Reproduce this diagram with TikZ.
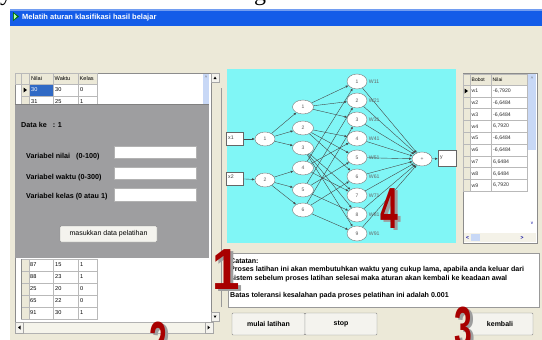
\documentclass[tikz,border=0pt]{standalone}
\usepackage{graphicx}
\usepackage{fontspec}
\setmainfont{Liberation Sans}
\newfontfamily\serifa{Liberation Serif}
\usetikzlibrary{arrows.meta,shapes.geometric}
\definecolor{beige}{RGB}{236,233,216}
\definecolor{btnface}{RGB}{244,243,238}
\definecolor{xpblue}{RGB}{20,92,232}
\definecolor{cyanbg}{RGB}{128,246,246}
\definecolor{panelgray}{RGB}{158,158,160}
\definecolor{numred}{RGB}{168,0,0}
\definecolor{selblue}{RGB}{49,106,197}
\definecolor{lblue}{RGB}{200,216,246}
\definecolor{gridline}{RGB}{185,185,185}
\begin{document}
\begin{tikzpicture}[x=1pt,y=-1pt,
  ui/.style={font=\fontsize{5.6}{6}\selectfont, inner sep=0pt, anchor=west},
  uib/.style={font=\fontsize{7.2}{8}\selectfont\bfseries, inner sep=0pt, anchor=west},
  note/.style={font=\fontsize{7.1}{8}\selectfont\bfseries, inner sep=0pt, anchor=west},
  btn/.style={draw=black!45, fill=btnface, rounded corners=1pt},
  btxt/.style={font=\fontsize{7}{8}\selectfont\bfseries, inner sep=0pt},
  field/.style={draw=black!30, fill=white},
  nn/.style={ellipse, draw=black!55, fill=white, minimum width=20pt, minimum height=14pt, inner sep=0pt, font=\fontsize{5}{6}\selectfont, text=black!65},
  iobox/.style={draw=black!60, fill=white, minimum width=17pt, minimum height=13pt, inner sep=0pt},
  conn/.style={draw=black!72, line width=0.4pt, -{Latex[length=2.6pt,width=2.4pt]}},
  wl/.style={font=\fontsize{5.2}{6}\selectfont, text=black!60, inner sep=0pt, anchor=west},
  bignum/.style={font=\fontsize{58}{58}\selectfont\bfseries, inner sep=0pt, anchor=base west},
  sbtn/.style={draw=black!35, fill=btnface},
]
\useasboundingbox (0,0) rectangle (542,340);
\fill[white] (0,0) rectangle (542,340);
% cropped text fragments at top
\node[font=\serifa\fontsize{24}{24}\selectfont, inner sep=0pt, anchor=base west] (ty) at (0,0) {y};
\node[font=\serifa\fontsize{24}{24}\selectfont, inner sep=0pt, anchor=base west] (tg) at (254,0) {g};
% window
\fill[beige] (10,26) rectangle (542,340);
\fill[xpblue] (10,9) rectangle (542,26);
\fill[xpblue!60!white] (10,9) rectangle (542,10.5);
\fill[green!45!black] (13,12) -- (19,16.5) -- (13,21) -- cycle;
\fill[green!30!white] (13.8,13.5) -- (17,16.5) -- (13.8,19.5) -- cycle;
\node[font=\fontsize{7.5}{8}\selectfont\bfseries, text=white, anchor=west, inner sep=0pt] (title) at (22,17.5) {Melatih aturan klasifikasi hasil belajar};

% ---------------- left grid ----------------
\draw[black!45, fill=white] (15,73) rectangle (211,322);
\foreach \a/\b in {15/21,21/29,29/53,53/78,78/97}
  \draw[gridline, fill=beige] (\a,73) rectangle (\b,84);
\node[ui] (hn) at (31,78.5) {Nilai};
\node[ui] (hw) at (54.5,78.5) {Waktu};
\node[ui] (hk) at (79.5,78.5) {Kelas};
\fill[selblue] (29,84) rectangle (53,96);
\foreach \y in {84,96,108} \draw[gridline] (21,\y) -- (97,\y);
\foreach \x in {29,53,78,97} \draw[gridline] (\x,84) -- (\x,108);
\draw[gridline, fill=beige] (21,84) rectangle (29,96);
\draw[gridline, fill=beige] (21,96) rectangle (29,108);
\fill (23.5,87.5) -- (27,90) -- (23.5,92.5) -- cycle;
\node[ui, text=white] (c11) at (31,90) {30};
\node[ui] (c12) at (55,90) {30};
\node[ui] (c13) at (80,90) {0};
\node[ui] (c21) at (31,102) {31};
\node[ui] (c22) at (55,102) {25};
\node[ui] (c23) at (80,102) {1};
% inner scroll strip
\fill[lblue] (203,74) rectangle (209,172);
\node[font=\fontsize{5}{6}\selectfont, inner sep=0pt, text=black!60] (up1) at (206,78) {\^{}};
% outer scrollbar
\draw[sbtn] (211,73) rectangle (219,82);
\fill (213.5,79) -- (215,76.5) -- (216.5,79) -- cycle;
\draw[sbtn] (211,312) rectangle (219,321);
\fill (213.5,315.5) -- (215,318) -- (216.5,315.5) -- cycle;
\draw[black!40] (221,88) -- (221,307);
% gray panel
\fill[panelgray] (15,104) rectangle (209,258);
\draw[black!50] (15,104) -- (209,104);
\node[uib] (datake) at (21,125) {Data ke \ \ : 1};
\node[uib] (vn) at (26,157) {Variabel nilai \ \ (0-100)};
\node[uib] (vw) at (26,177.5) {Variabel waktu (0-300)};
\node[uib] (vk) at (26,197) {Variabel kelas (0 atau 1)};
\draw[field] (114,146) rectangle (196,158);
\draw[field] (114,167) rectangle (196,179);
\draw[field] (114,188) rectangle (196,201);
\draw[btn] (60,226) rectangle (157,242);
\node[font=\fontsize{7}{8}\selectfont, inner sep=0pt] (bmas) at (108.5,234) {masukkan data pelatihan};
% lower rows
\foreach \a/\b/\c [count=\i from 0] in {87/15/1,88/23/1,25/20/0,65/22/0,91/30/1} {
  \draw[gridline, fill=beige] (21,{259+12*\i}) rectangle (29,{271+12*\i});
  \draw[gridline] (29,{259+12*\i}) rectangle (53,{271+12*\i});
  \draw[gridline] (53,{259+12*\i}) rectangle (78,{271+12*\i});
  \draw[gridline] (78,{259+12*\i}) rectangle (97,{271+12*\i});
  \node[ui] at (30,{265+12*\i}) {\a};
  \node[ui] at (55,{265+12*\i}) {\b};
  \node[ui] at (80,{265+12*\i}) {\c};
}
\draw[black!45] (21,259) -- (21,319);
% horizontal scrollbar
\draw[black!30, fill=beige!50!white] (15,322) rectangle (213,333);
\draw[sbtn] (15,322) rectangle (23,333);
\fill (20.5,325.5) -- (18,327.5) -- (20.5,329.5) -- cycle;
\draw[sbtn] (205,322) rectangle (213,333);
\fill (207.5,325.5) -- (210,327.5) -- (207.5,329.5) -- cycle;

% ---------------- network panel ----------------
\fill[cyanbg] (227,69) rectangle (456,243);
\node[iobox] (x1) at (235,139) {};
\node[wl, text=black!75] (x1l) at (228,138) {x1};
\node[iobox] (x2) at (235,178.5) {};
\node[wl, text=black!75] (x2l) at (228,177) {x2};
\node[nn] (a1) at (265,139) {1};
\node[nn] (a2) at (265,180) {2};
\foreach \i/\y in {1/107,2/128,3/148,4/168,5/190,6/210}
  \node[nn, minimum width=21pt] (m\i) at (303,\y) {\i};
\foreach \i in {1,...,9}
  \node[nn, minimum height=15pt] (r\i) at (357,{81.5+19*(\i-1)}) {\i};
\foreach \i in {1,...,9}
  \node[wl] (w\i) at ([xshift=1.5pt]r\i.east) {W\i1};
\node[nn] (o) at (422,159) {+};
\node[iobox, minimum width=18pt, minimum height=16pt] (yb) at (447,158.5) {};
\node[wl, text=black!75] (ybl) at (440,158) {y};
\draw[conn] (x1) -- (a1);
\draw[conn] (x2) -- (a2);
\foreach \i in {1,2,3} \draw[conn] (a1) -- (m\i);
\foreach \i in {4,5,6} \draw[conn] (a2) -- (m\i);
\foreach \a/\b in {1/1,1/2,1/3,2/4,2/5,2/6,3/7,3/8,3/9,4/1,4/4,4/7,5/2,5/5,5/8,6/3,6/6,6/9}
  \draw[conn] (m\a) -- (r\b);
\foreach \i in {1,...,9} \draw[conn] (r\i) -- (o);
\draw[conn] (o) -- (yb);

% ---------------- right table ----------------
\draw[black!45, fill=white] (463,73) rectangle (537,243);
\draw[gridline, fill=beige] (463,74) rectangle (470,85);
\draw[gridline, fill=beige] (470,74) rectangle (491,85);
\draw[gridline, fill=beige] (491,74) rectangle (527,85);
\node[ui, font=\fontsize{5}{6}\selectfont] (hb) at (471.5,79.5) {Bobot};
\node[ui, font=\fontsize{5}{6}\selectfont] (hv) at (492.5,79.5) {Nilai};
\foreach \v [count=\i] in {{-6,7920},{-6,6484},{-6,6484},{6,7920},{-6,6484},{-6,6484},{6,6484},{6,6484},{6,7920}} {
  \draw[gridline, fill=beige] (463,{85+11.8*(\i-1)}) rectangle (470,{85+11.8*\i});
  \draw[gridline] (470,{85+11.8*(\i-1)}) rectangle (491,{85+11.8*\i});
  \draw[gridline] (491,{85+11.8*(\i-1)}) rectangle (527,{85+11.8*\i});
  \node[ui, font=\fontsize{5.2}{6}\selectfont, text=black!80] at (471.5,{91+11.8*(\i-1)}) {w\i};
  \node[ui, font=\fontsize{5.2}{6}\selectfont, text=black!80] at (493,{91+11.8*(\i-1)}) {\v};
}
\fill (464.5,88.5) -- (468,91) -- (464.5,93.5) -- cycle;
\fill[lblue] (528,74) rectangle (536,150);
\node[font=\fontsize{5}{6}\selectfont, inner sep=0pt, text=black!60] (up2) at (532,78.5) {\^{}};
\node[font=\fontsize{4.5}{6}\selectfont, inner sep=0pt, text=blue!60!black] (dn2) at (532,223) {v};
\fill[beige!60!white] (464,233) rectangle (536,242);
\fill[lblue] (471,234) rectangle (480,241);
\node[font=\fontsize{5}{6}\selectfont\bfseries, inner sep=0pt, text=blue!60!black] (lt2) at (467.5,237.5) {<};
\node[font=\fontsize{5}{6}\selectfont\bfseries, inner sep=0pt, text=blue!60!black] (rt2) at (522,237.5) {>};

% ---------------- note box ----------------
\draw[black!40, fill=white] (228,253) rectangle (539,307);
\node[note] (n1) at (230,261) {Catatan:};
\node[note] (n2) at (230,270) {Proses latihan ini akan membutuhkan waktu yang cukup lama, apabila anda keluar dari};
\node[note] (n3) at (230,279) {sistem sebelum proses latihan selesai maka aturan akan kembali ke keadaan awal};
\node[note] (n4) at (230,296) {Batas toleransi kesalahan pada proses pelatihan ini adalah 0.001};

% ---------------- buttons ----------------
\draw[btn] (232,313) rectangle (305,335);
\node[btxt] (bm) at (268.5,324) {mulai latihan};
\draw[btn] (305,313) rectangle (377,335);
\node[btxt] (bs) at (341,324) {stop};
\draw[btn] (467,313) rectangle (533,335);
\node[btxt] (bk) at (500,324) {kembali};

% ---------------- big numbers ----------------
\node[bignum, text=black!38] (s1) at (215,291) {\scalebox{0.85}[1]{1}};
\node[bignum, text=numred] (d1) at (212,289) {\scalebox{0.85}[1]{1}};
\node[bignum, text=black!38] (s2) at (152,364) {\scalebox{0.55}[1]{2}};
\node[bignum, text=numred] (d2) at (149,362) {\scalebox{0.55}[1]{2}};
\node[bignum, text=black!38] (s3) at (457,349) {\scalebox{0.55}[1]{3}};
\node[bignum, text=numred] (d3) at (454,347) {\scalebox{0.55}[1]{3}};
\node[bignum, text=black!38] (s4) at (383,230) {\scalebox{0.55}[1]{4}};
\node[bignum, text=numred] (d4) at (380,228) {\scalebox{0.55}[1]{4}};
\end{tikzpicture}
\end{document}
